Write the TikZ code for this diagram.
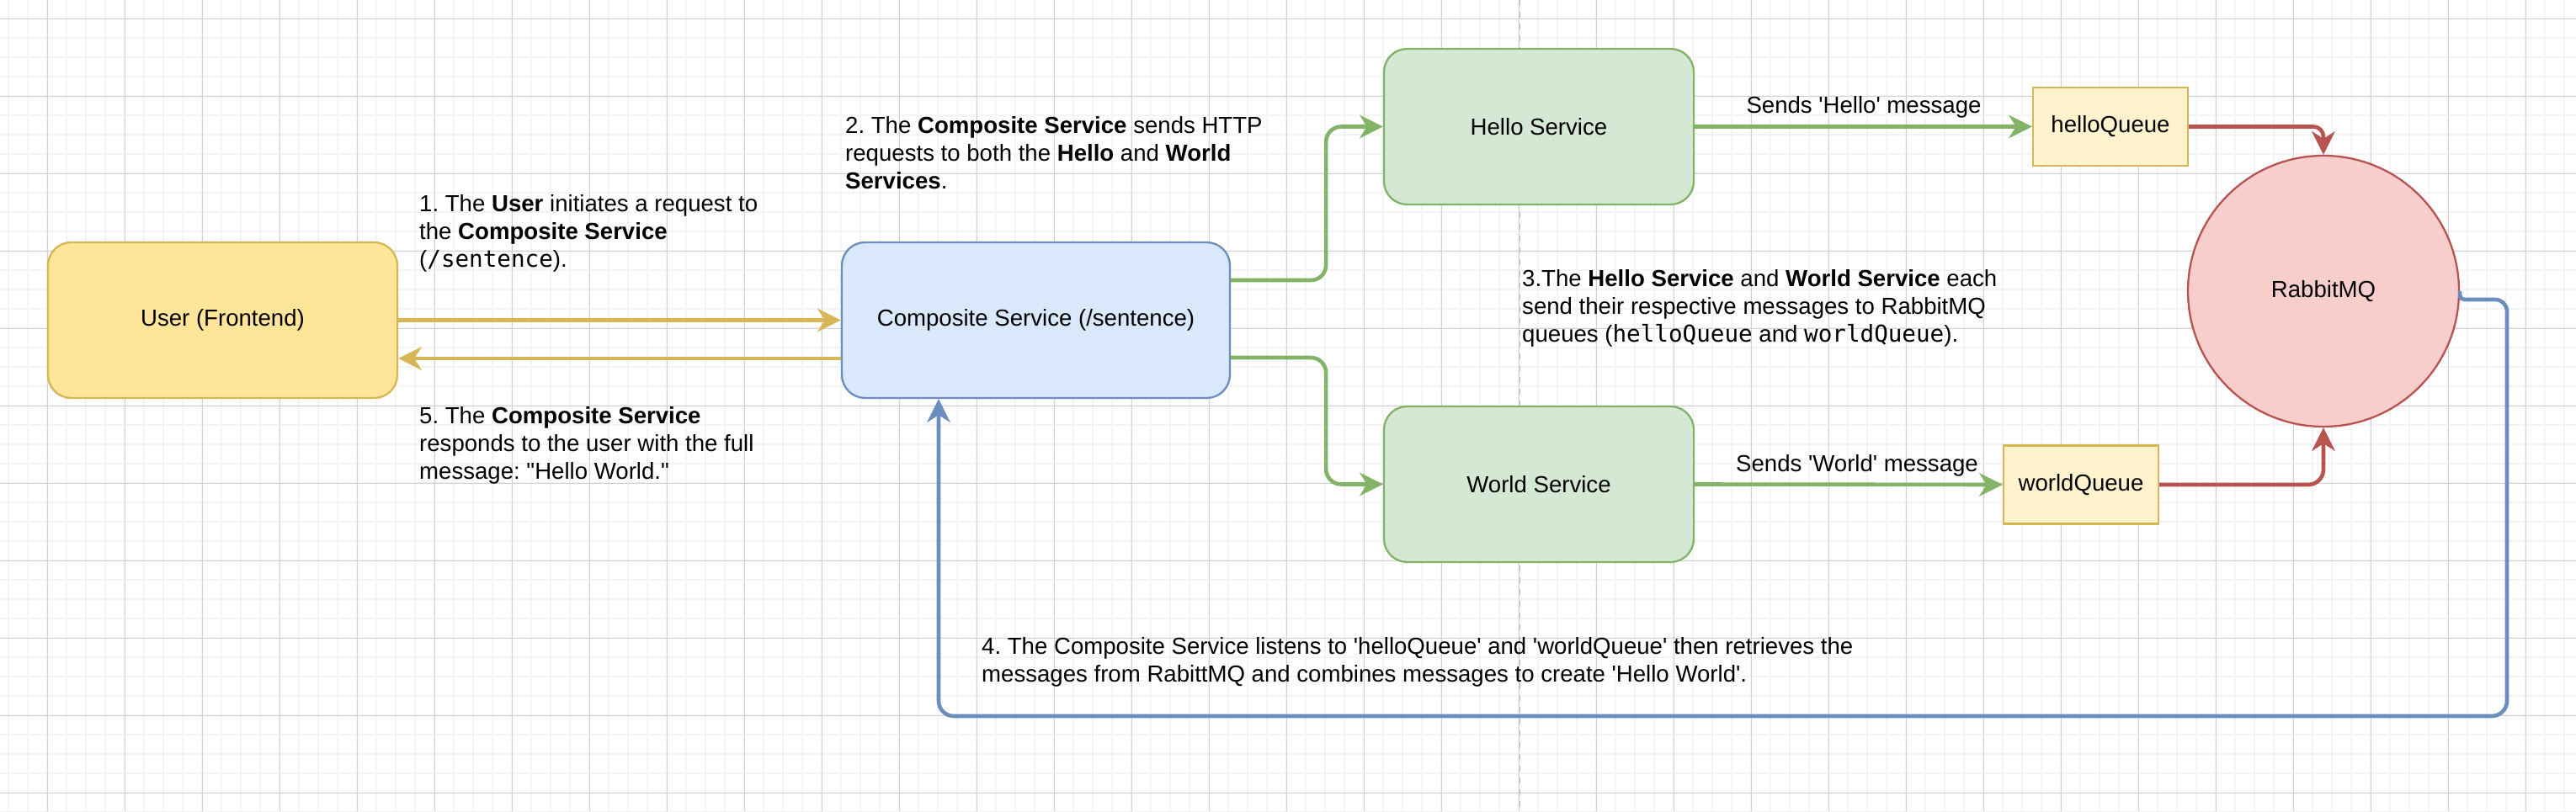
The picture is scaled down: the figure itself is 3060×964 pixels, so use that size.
\documentclass[tikz,border=0pt]{standalone}
\usepackage{fontspec}
\newfontfamily\helv{Liberation Sans}
\newfontfamily\mono{DejaVu Sans Mono}
\usetikzlibrary{arrows.meta,calc}
\frenchspacing
\definecolor{ufill}{HTML}{FFE599}
\definecolor{ystroke}{HTML}{D6B656}
\definecolor{bfill}{HTML}{DAE8FC}
\definecolor{bstroke}{HTML}{6C8EBF}
\definecolor{gfill}{HTML}{D5E8D4}
\definecolor{gstroke}{HTML}{82B366}
\definecolor{qfill}{HTML}{FFF2CC}
\definecolor{rfill}{HTML}{F8CECC}
\definecolor{rstroke}{HTML}{B85450}
\definecolor{gridminor}{HTML}{F4F4F4}
\definecolor{gridmajor}{HTML}{D0D0D0}
\definecolor{dashgray}{HTML}{BDBDBD}
\tikzset{
  box/.style={draw, rounded corners=27.6pt, line width=2.3pt, inner sep=0pt, align=center},
  qbox/.style={draw=ystroke, fill=qfill, line width=2.3pt, inner sep=0pt,
    minimum width=184pt, minimum height=93pt},
  txt/.style={anchor=base west, inner sep=0pt},
  lbl/.style={anchor=base, inner sep=0pt},
  tipA/.style={-{Stealth[length=28pt,width=28pt,inset=9pt,line width=0pt]}},
  conn/.style={line width=4.6pt, tipA},
  yconn/.style={conn, draw=ystroke},
  gconn/.style={conn, draw=gstroke},
  rconn/.style={conn, draw=rstroke},
  bconn/.style={conn, draw=bstroke},
}
\begin{document}
\frenchspacing
\begin{tikzpicture}[x=1pt,y=-1pt,font=\helv\fontsize{27.6pt}{33pt}\selectfont]
\useasboundingbox (0,0) rectangle (3060,964);
\fill[white] (0,0) rectangle (3060,964);
% grid
\foreach \i in {0,...,133} \draw[gridminor, line width=2pt] ({10.3+23*\i},0) -- ++(0,964);
\foreach \i in {0,...,42} \draw[gridminor, line width=2pt] (0,{-0.7+23*\i}) -- ++(3060,0);
\foreach \i in {0,...,33} \draw[gridmajor, line width=1.2pt] ({56.3+92*\i},0) -- ++(0,964);
\foreach \i in {0,...,10} \draw[gridmajor, line width=1.2pt] (0,{22.3+92*\i}) -- ++(3060,0);
% dashed divider
\draw[dashgray, line width=1.5pt, dash pattern=on 7pt off 7pt] (1805.5,0) -- (1805.5,964);

% nodes
\node[box, fill=ufill, draw=ystroke, minimum width=415pt, minimum height=185pt] (user) at (264.5,380.5) {User (Frontend)};
\node[box, fill=bfill, draw=bstroke, minimum width=461pt, minimum height=185pt] (comp) at (1230.5,380.5) {Composite Service (/sentence)};
\node[box, fill=gfill, draw=gstroke, minimum width=368pt, minimum height=185pt] (hello) at (1828,150.5) {Hello Service};
\node[box, fill=gfill, draw=gstroke, minimum width=368pt, minimum height=185pt] (world) at (1828,575.5) {World Service};
\node[qbox] (hq) at (2507,150.5) {helloQueue};
\node[qbox] (wq) at (2472,576) {worldQueue};
\node[circle, draw=rstroke, fill=rfill, line width=2.3pt, minimum size=322pt, inner sep=0pt] (rabbit) at (2760,346) {RabbitMQ};

% connectors
\draw[yconn] (user.east) -- (comp.west);
\draw[yconn] ($(comp.west)+(0,45.5)$) -- ($(user.east)+(0,45.5)$);
\draw[gconn, rounded corners=18pt] ($(comp.east)+(0,-47.5)$) -- ++(113,0) |- (hello.west);
\draw[gconn, rounded corners=18pt] ($(comp.east)+(0,44.5)$) -- ++(113,0) |- (world.west);
\draw[gconn] (hello.east) -- (hq.west);
\draw[gconn] (world.east) -- (wq.west);
\draw[rconn, rounded corners=12pt] (hq.east) -| (rabbit.north);
\draw[rconn, rounded corners=18pt] (wq.east) -| (rabbit.south);
\draw[bconn] (rabbit.east) [rounded corners=5pt] -- ++(0,10) [rounded corners=14pt] -- (2978,356) [rounded corners=18pt] -- (2978,851) -| ($(comp.south)+(-115.5,0)$);

% edge labels
\node[lbl] (lh) at (2214,134) {Sends 'Hello' message};
\node[lbl] (lw) at (2206,560) {Sends 'World' message};

% text blocks
\node[txt] (t1a) at (498,251) {1. The \textbf{User} initiates a request to};
\node[txt] (t1b) at (498,284) {the \textbf{Composite Service}};
\node[txt] (t1c) at (498,317) {({\mono /sentence}).};

\node[txt] (t2a) at (1004,158) {2. The \textbf{Composite Service} sends HTTP};
\node[txt] (t2b) at (1004,191) {requests to both the \textbf{Hello} and \textbf{World}};
\node[txt] (t2c) at (1004,224) {\textbf{Services}.};

\node[txt] (t3a) at (1808,340) {3.The \textbf{Hello Service} and \textbf{World Service} each};
\node[txt] (t3b) at (1808,373) {send their respective messages to RabbitMQ};
\node[txt] (t3c) at (1808,406) {queues ({\mono helloQueue} and {\mono worldQueue}).};

\node[txt] (t4a) at (1166,777) {4. The Composite Service listens to 'helloQueue' and 'worldQueue' then retrieves the};
\node[txt] (t4b) at (1166,810) {messages from RabittMQ and combines messages to create 'Hello World'.};

\node[txt] (t5a) at (498,503) {5. The \textbf{Composite Service}};
\node[txt] (t5b) at (498,536) {responds to the user with the full};
\node[txt] (t5c) at (498,569) {message: "Hello World."};
\end{tikzpicture}
\end{document}
